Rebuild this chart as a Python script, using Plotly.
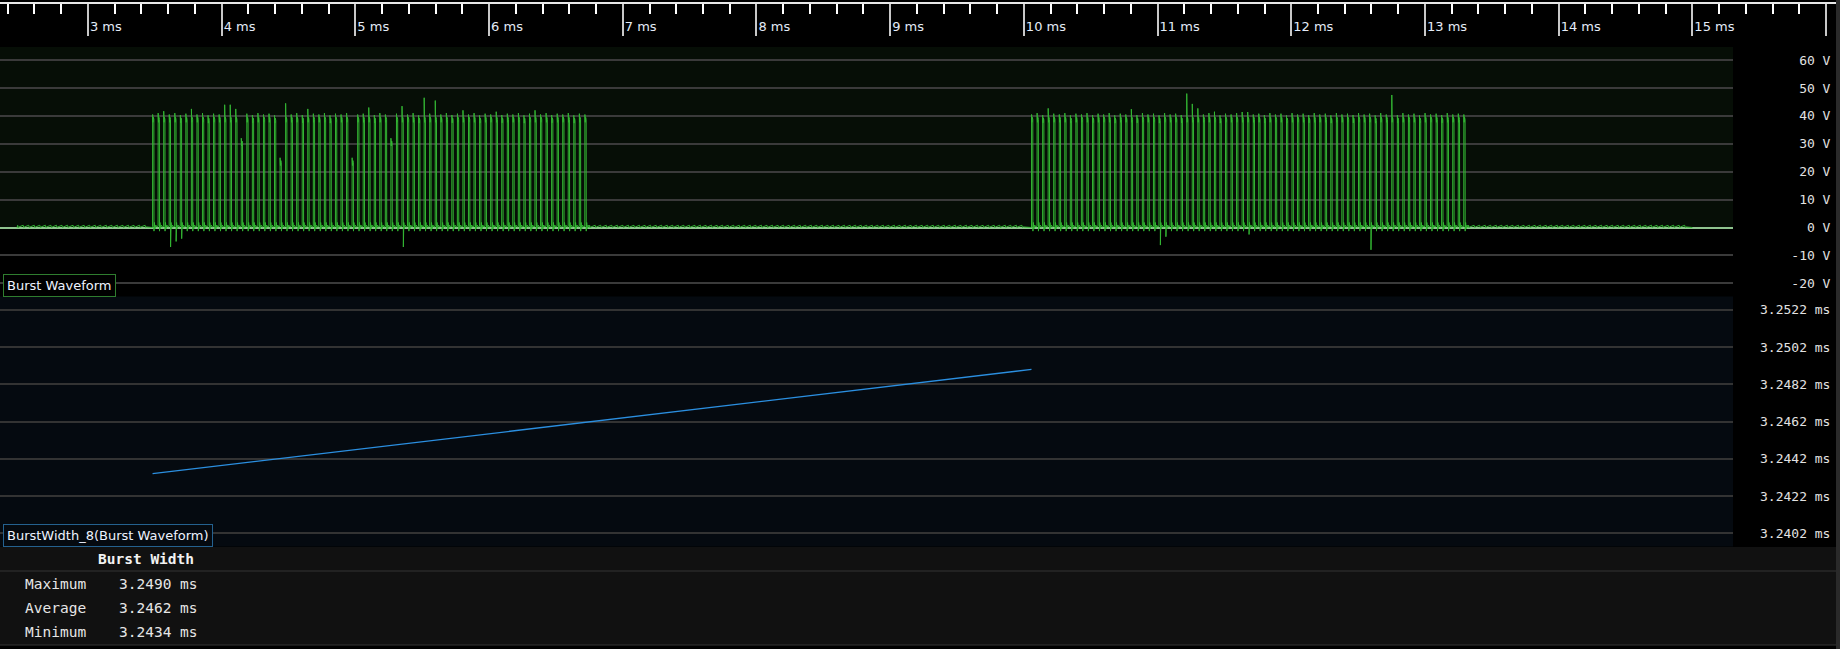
import plotly.graph_objects as go

# ---------------- data ----------------
# Burst waveform: idle baseline plus two bursts of narrow pulses
wave_start_ms = 2.47
wave_end_ms = 15.0
burst_starts_ms = [3.483, 10.057]
pulse_period_ms = 0.04145
idle_ripple_v = 0.8

burst1_peaks_v = [40.5, 41.0, 41.7, 40.5, 41.0, 40.3, 40.8, 42.5, 40.5, 41.0,
                  40.2, 40.8, 40.5, 44.0, 44.0, 42.5, 32.0, 40.8, 40.3, 41.0,
                  40.5, 40.8, 40.2, 25.0, 44.5, 40.5, 41.0, 40.3, 42.5, 40.8,
                  40.5, 41.0, 40.2, 40.8, 40.5, 41.0, 25.0, 40.5, 40.8, 43.0,
                  40.3, 41.0, 40.5, 32.0, 40.8, 43.5, 40.5, 41.0, 40.2, 46.5,
                  40.8, 45.5, 40.5, 41.0, 40.3, 40.8, 42.0, 40.5, 41.0, 40.2,
                  40.8, 40.5, 41.5, 40.3, 40.8, 40.5, 41.0, 40.2, 40.8, 42.0,
                  40.5, 41.0, 40.3, 40.8, 40.5, 41.0, 40.2, 40.8, 40.5]
burst2_peaks_v = [40.5, 41.0, 40.3, 42.7, 40.8, 40.5, 41.0, 40.2, 40.8, 40.5,
                  41.0, 40.3, 40.8, 40.5, 41.0, 40.2, 40.8, 40.5, 42.4, 40.3,
                  41.0, 40.5, 40.8, 40.2, 41.0, 40.5, 40.8, 40.3, 48.0, 44.3,
                  42.7, 40.5, 41.0, 41.5, 40.2, 40.8, 40.5, 41.0, 41.4, 41.4,
                  40.5, 40.8, 40.3, 41.0, 40.5, 40.8, 40.2, 41.0, 40.5, 40.8,
                  40.3, 41.0, 40.5, 40.8, 40.2, 41.0, 40.5, 40.8, 40.3, 41.0,
                  40.5, 40.8, 40.2, 41.0, 40.5, 47.5, 40.3, 41.0, 40.5, 40.8,
                  40.2, 41.0, 40.5, 40.8, 40.3, 41.0, 40.5, 40.8, 40.5]
burst_peaks_v = [burst1_peaks_v, burst2_peaks_v]
default_undershoot_v = -1.3
burst1_dips = [(3, -7.0), (4, -5.0), (5, -4.0), (45, -7.0)]
burst2_dips = [(23, -6.3), (24, -3.3), (39, -2.5), (61, -8.0)]
burst_dips = [burst1_dips, burst2_dips]
# pulse outline: time offsets (ms) and level keys
pulse_offsets_ms = [0.0, 0.0006, 0.0030, 0.0062, 0.0098, 0.0106, 0.0140, 0.0180, 0.0240, 0.0320]
pulse_levels = ["base", "peak", "droop", "top", "top2", "under", 1.8, -0.5, 0.9, 0.2]

# Burst width measurement
bw_times_ms = [3.483, 10.057]
bw_values_ms = [3.2434, 3.2490]

# Axis tick labels
volt_ticks = [-20, -10, 0, 10, 20, 30, 40, 50, 60]
volt_tick_text = ["-20 V", "-10 V", "0 V", "10 V", "20 V", "30 V", "40 V", "50 V", "60 V"]
bw_ticks = [3.2402, 3.2422, 3.2442, 3.2462, 3.2482, 3.2502, 3.2522]
bw_tick_text = ["3.2402 ms", "3.2422 ms", "3.2442 ms", "3.2462 ms",
                "3.2482 ms", "3.2502 ms", "3.2522 ms"]

# Statistics table
table_title = "Burst Width"
stat_names = ["Maximum", "Average", "Minimum"]
stat_values = ["3.2490 ms", "3.2462 ms", "3.2434 ms"]

waveform_label = "Burst Waveform"
bw_label = "BurstWidth_8(Burst Waveform)"

# ---------------- layout constants ----------------
W, H = 1840, 649
PX_PER_MS = 133.7
T_LEFT = 2.342
PLOT_RIGHT_PX = 1733
V0_PX, PX_PER_V = 227.5, 2.79
BW_REF, BW_REF_PX, BW_PX_PER_MS = 3.2402, 533.3, 18625.0
RULER_LINE_PX, P1_TOP, P1_BOT, P2_BOT = 4, 47, 296.5, 546.5
LABEL_CHARS = 9
NBSP = "\u00a0"


def fy(px):
    return 1 - px / H


def fx(px):
    return px / W


def pad_label(s):
    # right-align labels in the monospace column
    return NBSP * (LABEL_CHARS - len(s)) + s.replace(" ", NBSP)


# ---------------- build waveform points ----------------
wx, wy = [], []


def add_idle(t_from, t_to):
    t = t_from
    wx.append(t); wy.append(0.0)
    while t + pulse_period_ms < t_to:
        wx.extend([t + 0.004, t + 0.008, t + 0.014])
        wy.extend([idle_ripple_v, 0.0, 0.2])
        t += pulse_period_ms
    wx.append(t_to); wy.append(0.0)


cursor = wave_start_ms
for b, t_start in enumerate(burst_starts_ms):
    add_idle(cursor, t_start)
    dips = dict(burst_dips[b])
    peaks = burst_peaks_v[b]
    for i, p in enumerate(peaks):
        t0 = t_start + i * pulse_period_ms
        under = dips.get(i, default_undershoot_v)
        for dt, lev in zip(pulse_offsets_ms, pulse_levels):
            if lev == "base":
                v = 0.4
            elif lev == "peak":
                v = p
            elif lev == "droop":
                v = min(p, 40.5) - 2.8
            elif lev == "top":
                v = min(p, 40.5) - 1.0
            elif lev == "top2":
                v = min(p, 40.5) - 1.8
            elif lev == "under":
                v = under
            else:
                v = lev
            wx.append(t0 + dt); wy.append(v)
    cursor = t_start + (len(peaks) - 1) * pulse_period_ms + pulse_offsets_ms[-1]
add_idle(cursor, wave_end_ms)

# ---------------- figure ----------------
fig = go.Figure()
# empty trace so the time ruler subplot is created
fig.add_trace(go.Scatter(x=[], y=[], xaxis="x", yaxis="y", mode="lines",
                         hoverinfo="skip", showlegend=False))
fig.add_trace(go.Scatter(x=wx, y=wy, xaxis="x2", yaxis="y2", mode="lines",
                         line=dict(color="#33b533", width=1), hoverinfo="skip",
                         showlegend=False))
fig.add_trace(go.Scatter(x=bw_times_ms, y=bw_values_ms, xaxis="x3", yaxis="y3",
                         mode="lines", line=dict(color="#2b8fe0", width=1.3),
                         showlegend=False))

data_range = [T_LEFT, T_LEFT + PLOT_RIGHT_PX / PX_PER_MS]
v_top = (V0_PX - P1_TOP) / PX_PER_V
v_bot = -(P1_BOT - V0_PX) / PX_PER_V
bw_top = BW_REF + (BW_REF_PX - P1_BOT) / BW_PX_PER_MS
bw_bot = BW_REF - (P2_BOT - BW_REF_PX) / BW_PX_PER_MS

mono = "DejaVu Sans Mono"
sans = "DejaVu Sans"
hidden_x = dict(showgrid=False, zeroline=False, showticklabels=False, ticks="",
                showline=False, domain=[0, fx(PLOT_RIGHT_PX)], range=data_range)
ylab = dict(side="right", tickmode="array", ticks="", ticklen=0,
            ticklabelposition="outside", ticklabelstandoff=26,
            tickfont=dict(family=mono, size=13, color="#e2e2e2"), showline=False)

fig.update_layout(
    width=W, height=H, margin=dict(l=0, r=0, t=0, b=0),
    paper_bgcolor="#000000", plot_bgcolor="rgba(0,0,0,0)",
    showlegend=False,
    xaxis=dict(domain=[0, 1], anchor="y", side="top",
               range=[T_LEFT, T_LEFT + W / PX_PER_MS],
               showline=True, linecolor="#e8e8e8", linewidth=2,
               ticks="inside", ticklen=32, tickwidth=2, tickcolor="#c8c8c8",
               tick0=0, dtick=1, ticksuffix=" ms",
               ticklabelposition="inside right", ticklabelstandoff=15,
               tickfont=dict(family=sans, size=13, color="#e4ecf8"),
               minor=dict(ticks="inside", dtick=0.2, ticklen=10, tickwidth=2,
                          tickcolor="#ffffff", showgrid=False),
               showgrid=False, zeroline=False),
    yaxis=dict(domain=[fy(P1_TOP), fy(RULER_LINE_PX)], anchor="x", range=[0, 1],
               showgrid=False, zeroline=False, showticklabels=False, ticks="",
               showline=False),
    xaxis2=dict(anchor="y2", **hidden_x),
    yaxis2=dict(domain=[fy(P1_BOT), fy(P1_TOP)], range=[v_bot, v_top],
                anchor="x2", tickvals=volt_ticks,
                ticktext=[pad_label(s) for s in volt_tick_text],
                showgrid=True, gridcolor="#3a3a3a", gridwidth=2,
                zeroline=True, zerolinecolor="#8fc48f", zerolinewidth=2, **ylab),
    xaxis3=dict(anchor="y3", matches="x2", **hidden_x),
    yaxis3=dict(domain=[fy(P2_BOT), fy(P1_BOT)], range=[bw_bot, bw_top],
                anchor="x3", tickvals=bw_ticks,
                ticktext=[pad_label(s) for s in bw_tick_text],
                showgrid=True, gridcolor="#333333", gridwidth=2,
                zeroline=False, **ylab),
)

shapes = [
    # waveform panel: tint above 0 V
    dict(type="rect", xref="paper", yref="y2", x0=0, x1=fx(PLOT_RIGHT_PX),
         y0=0, y1=v_top, fillcolor="#060e06", line_width=0, layer="below"),
    # burst width panel background
    dict(type="rect", xref="paper", yref="paper", x0=0, x1=fx(PLOT_RIGHT_PX),
         y0=fy(P2_BOT), y1=fy(P1_BOT), fillcolor="#050a10", line_width=0,
         layer="below"),
    # statistics table background and rules
    dict(type="rect", xref="paper", yref="paper", x0=0, x1=1,
         y0=fy(645), y1=fy(547), fillcolor="#111111", line_width=0, layer="below"),
    dict(type="line", xref="paper", yref="paper", x0=0, x1=1,
         y0=fy(571), y1=fy(571), line=dict(color="#353535", width=1)),
    dict(type="line", xref="paper", yref="paper", x0=0, x1=1,
         y0=fy(645), y1=fy(645), line=dict(color="#353535", width=1)),
    # right frame strip
    dict(type="rect", xref="paper", yref="paper", x0=fx(1836), x1=1,
         y0=0, y1=1, fillcolor="#2a2a2a", line_width=0, layer="above"),
]
fig.update_layout(shapes=shapes)

annotations = [
    dict(text=waveform_label, xref="paper", yref="paper", x=fx(3), y=fy(P1_BOT),
         xanchor="left", yanchor="bottom", showarrow=False,
         font=dict(family=sans, size=13, color="#eef3ff"),
         bgcolor="#000000", bordercolor="#2f7d2f", borderwidth=1, borderpad=3),
    dict(text=bw_label, xref="paper", yref="paper", x=fx(3), y=fy(P2_BOT),
         xanchor="left", yanchor="bottom", showarrow=False,
         font=dict(family=sans, size=13, color="#eef3ff"),
         bgcolor="#050a10", bordercolor="#24618f", borderwidth=1, borderpad=3),
    dict(text="<b>" + table_title + "</b>", xref="paper", yref="paper",
         x=fx(145.5), y=fy(559), xanchor="center", yanchor="middle",
         showarrow=False, font=dict(family=mono, size=14.5, color="#f2f2f2")),
]
row_y = [584, 608, 632]
for name, val, ypx in zip(stat_names, stat_values, row_y):
    annotations.append(dict(text=name, xref="paper", yref="paper", x=fx(23),
                            y=fy(ypx), xanchor="left", yanchor="middle",
                            showarrow=False,
                            font=dict(family=mono, size=14.5, color="#e6e6e6")))
    annotations.append(dict(text=val, xref="paper", yref="paper", x=fx(117),
                            y=fy(ypx), xanchor="left", yanchor="middle",
                            showarrow=False,
                            font=dict(family=mono, size=14.5, color="#e6e6e6")))
fig.update_layout(annotations=annotations)

fig.write_html("out.html",
               config={"displayModeBar": False},
               post_script="document.body.style.margin='0';"
                           "document.body.style.overflow='hidden';")
